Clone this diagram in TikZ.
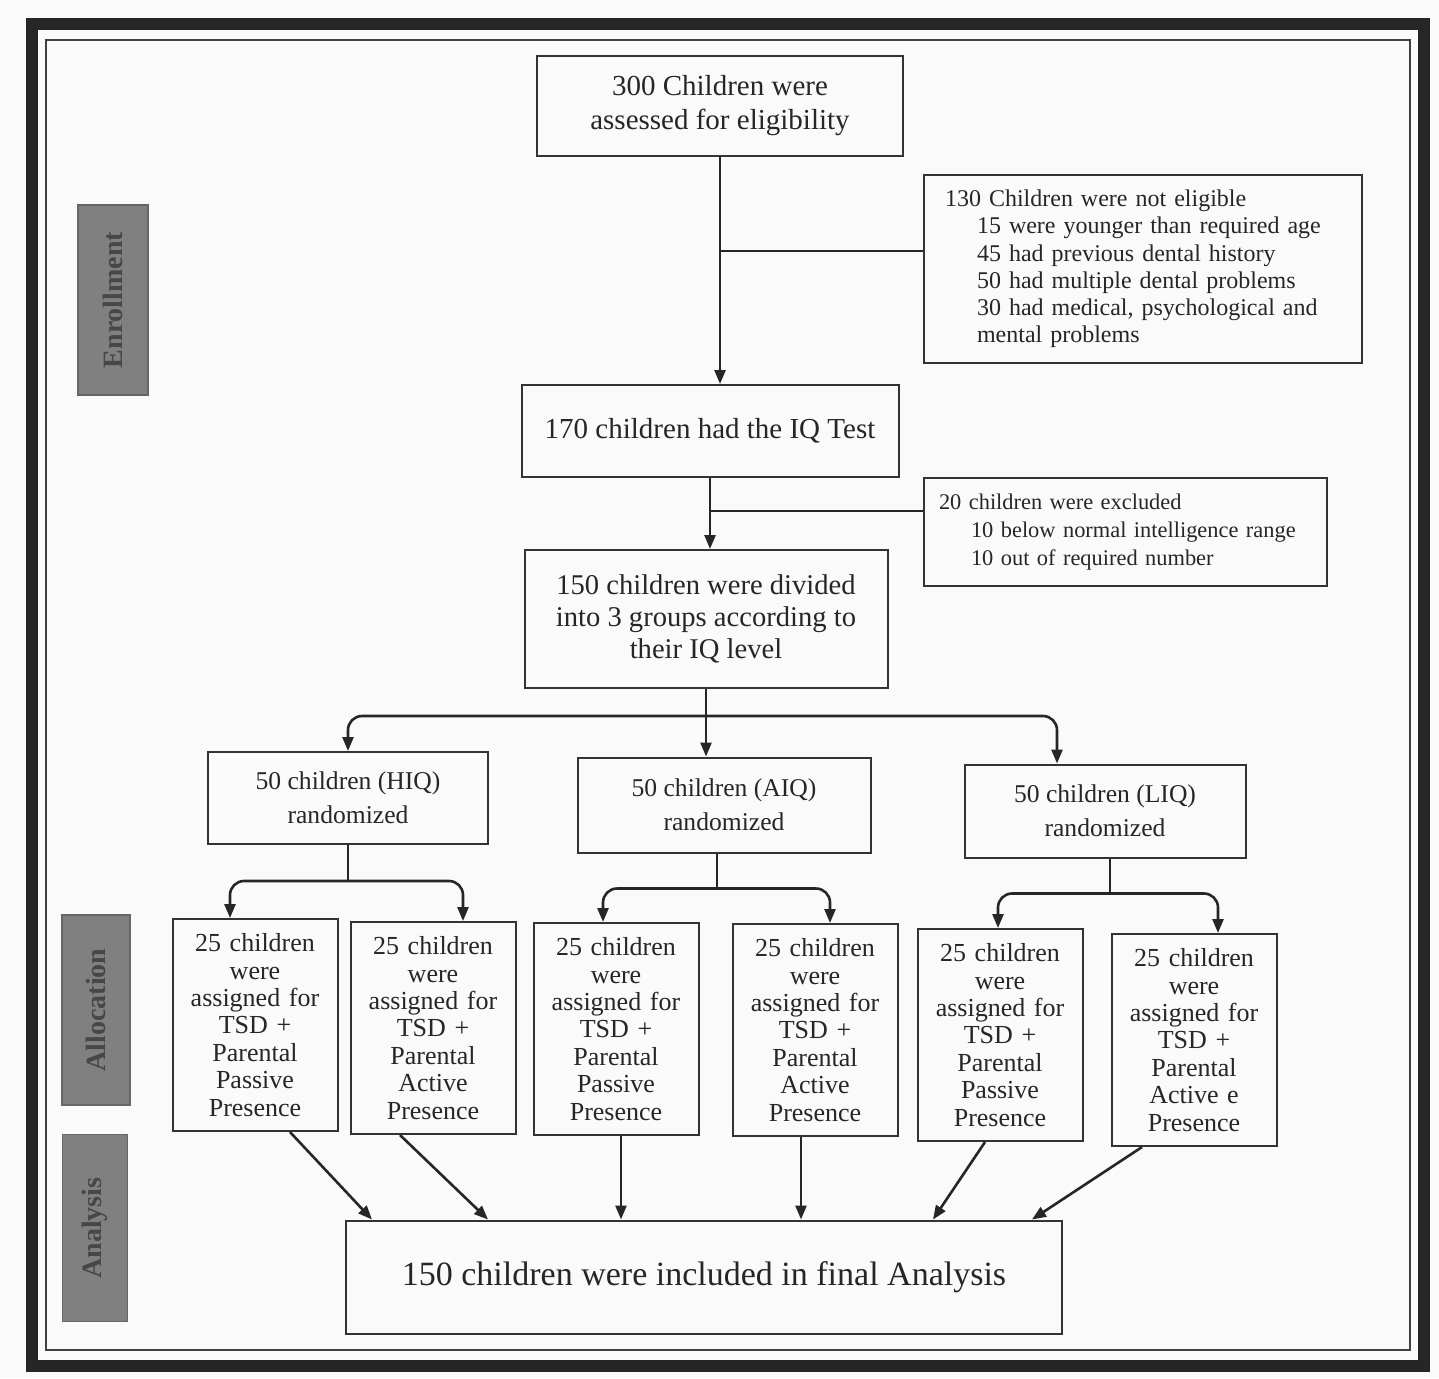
\documentclass[tikz,border=0pt]{standalone}
\usepackage{fontspec}
\setmainfont{Liberation Serif}
\usetikzlibrary{arrows.meta,calc}
\begin{document}
\begin{tikzpicture}[x=0.5pt,y=-0.5pt,
  box/.style={draw=black!80,line width=1pt,inner sep=0pt,align=center,text=black!85},
  gbox/.style={box,minimum width=82.5pt,minimum height=106pt,text width=80pt,font=\fontsize{13}{13.7}\selectfont},
  fbox/.style={box,font=\fontsize{12.8}{17}\selectfont},
  side/.style={fill=black!50,draw=black!60,line width=0.6pt,rotate=90,text=black!72,font=\bfseries\fontsize{14}{16}\selectfont,inner sep=0pt},
  con/.style={draw=black!85,line width=1.3pt},
  arr/.style={con,-{Triangle[length=7pt,width=5.5pt]}},
  bus/.style={arr,rounded corners=7pt}]
\fill[black!2] (0,0) rectangle (1439,1378);
\draw[black!85,line width=6pt] (32,24) rectangle (1424,1366);
\draw[black!75,line width=1.2pt] (46,40) rectangle (1410,1350);

% side labels
\node[side,minimum width=95pt,minimum height=35pt] (S1) at (113,300) {Enrollment};
\node[side,minimum width=95pt,minimum height=34pt] (S2) at (96,1010) {Allocation};
\node[side,minimum width=93.5pt,minimum height=32.5pt] (S3) at (95,1228) {Analysis};

% main boxes
\node[box,minimum width=183pt,minimum height=50pt,font=\fontsize{14.5}{17}\selectfont] (A) at (720,106) {300 Children were\\assessed for eligibility};
\node[box,minimum width=219pt,minimum height=94pt,text width=198pt,align=left,font=\fontsize{12}{13.6}\selectfont] (B) at (1143,269)
  {130 Children were not eligible\\
   \hspace*{16pt}15 were younger than required age\\
   \hspace*{16pt}45 had previous dental history\\
   \hspace*{16pt}50 had multiple dental problems\\
   \hspace*{16pt}30 had medical, psychological and\\
   \hspace*{16pt}mental problems};
\node[box,minimum width=188.5pt,minimum height=46pt,font=\fontsize{14.5}{17}\selectfont] (C) at (710,431) {170 children had the IQ Test};
\node[box,minimum width=201.5pt,minimum height=54pt,text width=186pt,align=left,font=\fontsize{11.2}{14}\selectfont] (D) at (1125,532)
  {20 children were excluded\\
   \hspace*{16pt}10 below normal intelligence range\\
   \hspace*{16pt}10 out of required number};
\node[box,minimum width=181.5pt,minimum height=69pt,font=\fontsize{14.3}{16}\selectfont] (E) at (706,619) {150 children were divided\\into 3 groups according to\\their IQ level};

\node[fbox,minimum width=140pt,minimum height=46pt] (F1) at (348,798) {50 children (HIQ)\\randomized};
\node[fbox,minimum width=146.5pt,minimum height=47.5pt] (F2) at (724,805) {50 children (AIQ)\\randomized};
\node[fbox,minimum width=140.5pt,minimum height=46.5pt] (F3) at (1105,811) {50 children (LIQ)\\randomized};

\node[gbox] (G1) at (255,1025) {25 children\\were\\assigned for\\TSD +\\Parental\\Passive\\Presence};
\node[gbox] (G2) at (433,1028) {25 children\\were\\assigned for\\TSD +\\Parental\\Active\\Presence};
\node[gbox] (G3) at (616,1029) {25 children\\were\\assigned for\\TSD +\\Parental\\Passive\\Presence};
\node[gbox] (G4) at (815,1030) {25 children\\were\\assigned for\\TSD +\\Parental\\Active\\Presence};
\node[gbox] (G5) at (1000,1035) {25 children\\were\\assigned for\\TSD +\\Parental\\Passive\\Presence};
\node[gbox] (G6) at (1194,1040) {25 children\\were\\assigned for\\TSD +\\Parental\\Active e\\Presence};

\node[box,minimum width=358pt,minimum height=56.5pt,font=\fontsize{17}{20}\selectfont] (H) at (704,1277) {150 children were included in final Analysis};

% connectors: enrollment
\coordinate (a1) at ($(A.south)+(0,94)$);
\draw[arr] (A.south) -- (A.south |- C.north);
\draw[con] (a1) -- (a1 -| B.west);
\coordinate (c1) at ($(C.south)+(0,33)$);
\draw[arr] (C.south) -- (C.south |- E.north);
\draw[con] (c1) -- (c1 -| D.west);

% E to F
\coordinate (e1) at ($(E.south)+(0,27)$);
\coordinate (f3in) at ($(F3.north)+(-48,0)$);
\draw[arr] (E.south) -- (E.south |- F2.north);
\draw[bus] (e1) -| (F1.north);
\draw[bus] (e1) -| (f3in);

% F to G
\coordinate (f1) at ($(F1.south)+(0,36)$);
\draw[con] (F1.south) -- (f1);
\draw[bus] (f1) -| ($(G1.north)+(-25,0)$);
\draw[bus] (f1) -| ($(G2.north)+(30,0)$);

\coordinate (f2s) at ($(F2.south)+(-7,0)$);
\coordinate (f2) at ($(f2s)+(0,35)$);
\draw[con] (f2s) -- (f2);
\draw[bus] (f2) -| ($(G3.north)+(-13,0)$);
\draw[bus] (f2) -| ($(G4.north)+(15,0)$);

\coordinate (f3s) at ($(F3.south)+(5,0)$);
\coordinate (f3) at ($(f3s)+(0,35)$);
\draw[con] (f3s) -- (f3);
\draw[bus] (f3) -| ($(G5.north)+(-2,0)$);
\draw[bus] (f3) -| ($(G6.north)+(24,0)$);

% G to H
\draw[arr] ($(G1.south)+(35,0)$) -- ($(H.north)+(-332,0)$);
\draw[arr] ($(G2.south)+(-33,0)$) -- ($(H.north)+(-216,0)$);
\draw[arr] ($(G3.south)+(5,0)$) -- ($(H.north)+(-83,0)$);
\draw[arr] ($(G4.south)+(-14,0)$) -- ($(H.north)+(97,0)$);
\draw[arr] ($(G5.south)+(-15,0)$) -- ($(H.north)+(229,0)$);
\draw[arr] ($(G6.south)+(-52,0)$) -- ($(H.north)+(328,0)$);
\end{tikzpicture}
\end{document}
